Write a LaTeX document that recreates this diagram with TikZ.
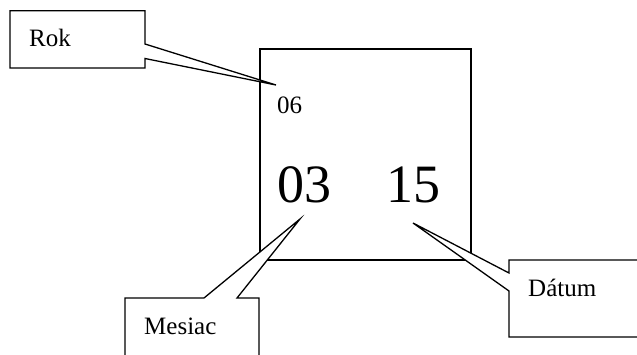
\documentclass[tikz,border=0pt]{standalone}
\usepackage{fontspec}
\setmainfont{Liberation Serif}
\begin{document}
\begin{tikzpicture}[x=1pt,y=-1pt,
  callout/.style={draw=black,fill=white,line width=1.3pt,line join=miter},
  frame/.style={draw=black,line width=1.3pt},
  lbl/.style={inner sep=0pt,anchor=base west,font=\fontsize{25}{30}\selectfont},
  big/.style={inner sep=0pt,anchor=base west,font=\fontsize{54}{60}\selectfont}]
\useasboundingbox (0,0) rectangle (637,354);
\clip (0,0) rectangle (637,354);
% main box
\draw[frame] (260,49) rectangle (471,260);
\node[lbl] (yr) at (277,113) {06};
\node[big] (mo) at (277,202) {03};
\node[big] (dy) at (386,202) {15};
% callouts
\coordinate (rt) at (276,85);
\coordinate (mt) at (300,219);
\coordinate (dt) at (413,223);
\draw[callout] (10,10.7) -- (145,10.7) -- (145,44) -- (rt) -- (145,58.5) -- (145,68) -- (10,68) -- cycle;
\draw[callout] (125,298) -- (204,298) -- (mt) -- (237,298) -- (259,298) -- (259,370) -- (125,370) -- cycle;
\draw[callout] (509,260) -- (650,260) -- (650,337) -- (509,337) -- (509,291) -- (dt) -- (509,273) -- cycle;
\node[lbl] (rok) at (29,46) {Rok};
\node[lbl] (mes) at (144,334) {Mesiac};
\node[lbl] (dat) at (528,296) {Dátum};
\end{tikzpicture}
\end{document}
